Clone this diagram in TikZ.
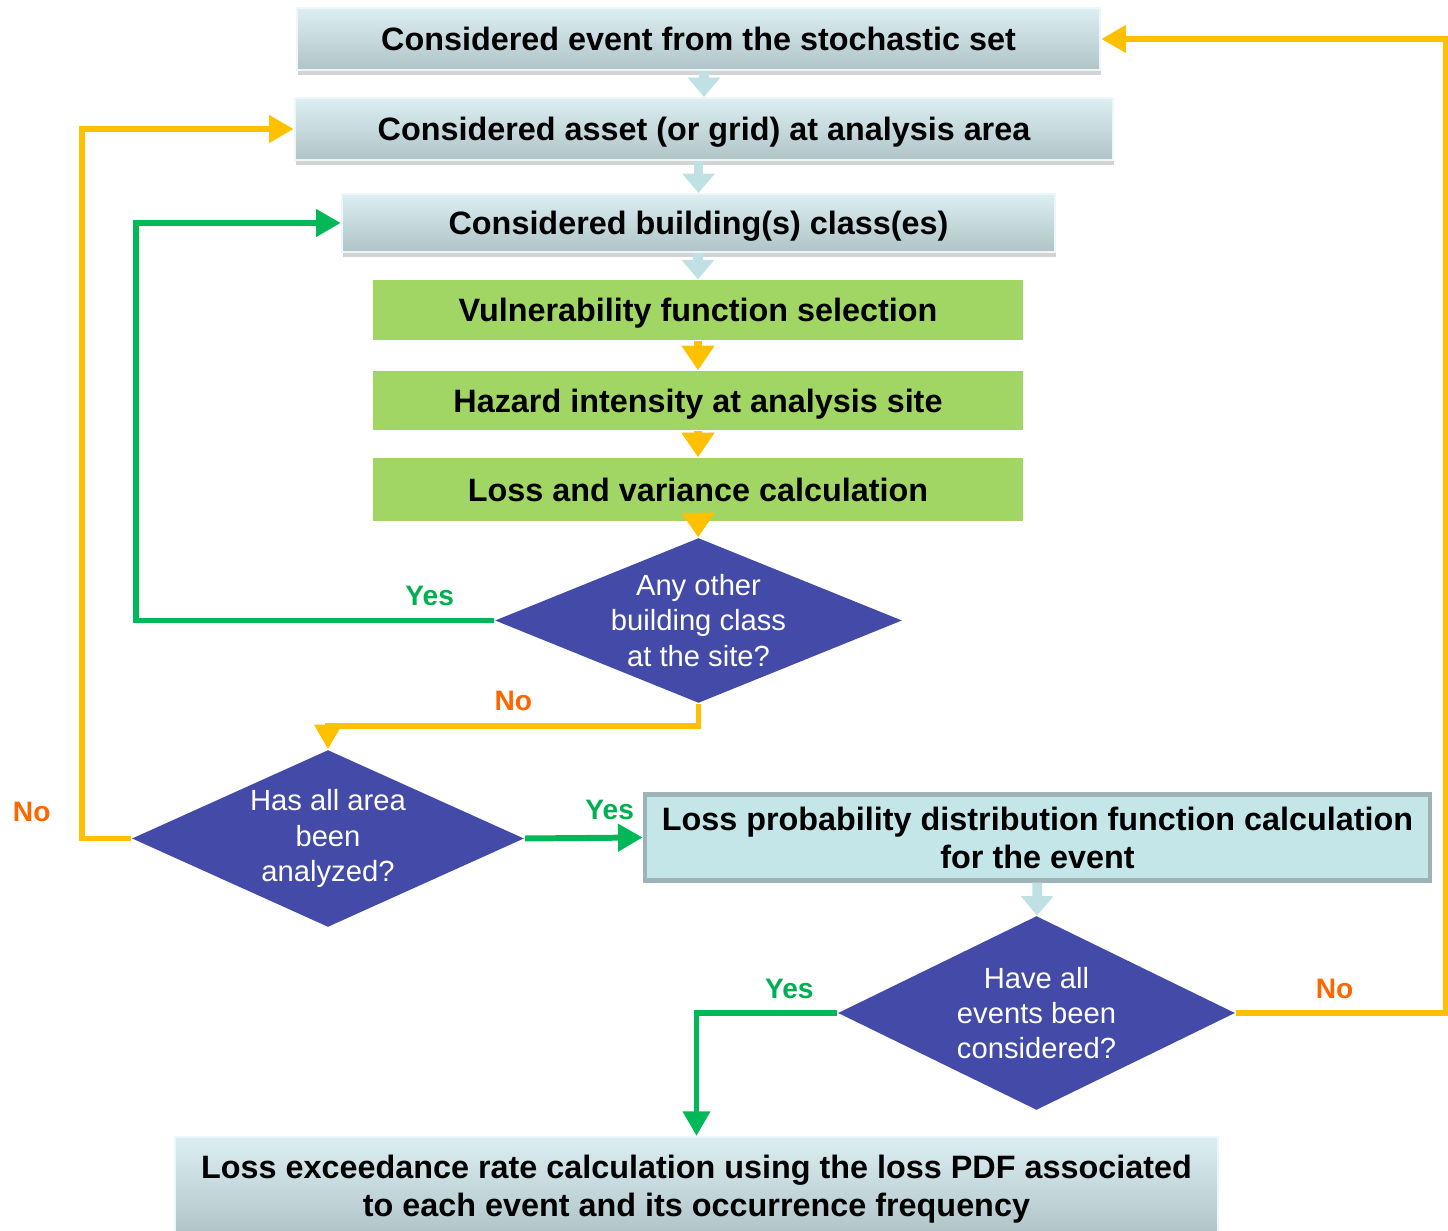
\documentclass[tikz,border=0pt]{standalone}
\usepackage{fontspec}
\setmainfont{Liberation Sans}
\usetikzlibrary{shapes.geometric,arrows.meta,shadows}
\definecolor{boxtop}{HTML}{DCEEF2}
\definecolor{boxbot}{HTML}{B0C4C7}
\definecolor{leaf}{HTML}{A2D664}
\definecolor{pdfbox}{HTML}{C4E6E8}
\definecolor{pdfedge}{HTML}{9DB3B5}
\definecolor{question}{HTML}{434AA8}
\definecolor{yesline}{HTML}{00B858}
\definecolor{noline}{HTML}{FFC000}
\definecolor{yestext}{HTML}{00B050}
\definecolor{notext}{HTML}{FF6600}
\definecolor{flowblue}{HTML}{BFE1E4}
\begin{document}
\begin{tikzpicture}[x=0.01cm,y=-0.01cm,
  stage/.style={rectangle,inner sep=0pt,text depth=0pt,top color=boxtop,bottom color=boxbot,draw=boxtop!50!white,line width=0.6pt,
    drop shadow={shadow xshift=0.3pt,shadow yshift=-1.5pt,opacity=0.35},font=\fontsize{9.2}{10.8}\selectfont\bfseries,align=center},
  task/.style={rectangle,inner sep=0pt,text depth=0pt,fill=leaf,minimum width=6.5cm,font=\fontsize{9.2}{10.8}\selectfont\bfseries},
  query/.style={diamond,inner sep=0pt,fill=question},
  qtext/.style={text=white,font=\fontsize{8.3}{10}\selectfont,align=center},
  yes/.style={text=yestext,font=\fontsize{8}{9}\selectfont\bfseries},
  no/.style={text=notext,font=\fontsize{8}{9}\selectfont\bfseries},
  bluearrow/.style={draw=flowblue,line width=2.8pt,-{Triangle[length=5.5pt 0,width=9pt 0]}},
  goldarrow/.style={draw=noline,line width=2.2pt,-{Triangle[length=7pt 0,width=9pt 0]}},
  yesarrow/.style={draw=yesline,line width=1.7pt,-{Triangle[length=7pt 0,width=7.5pt 0]}},
  noarrow/.style={draw=noline,line width=1.7pt,-{Triangle[length=7pt 0,width=7.5pt 0]}}]
\useasboundingbox (0,0) rectangle (1448,1231);
% main chain
\node[stage,minimum width=8.03cm,minimum height=0.62cm] (1) at (698.5,39) {Considered event from the stochastic set};
\node[stage,minimum width=8.18cm,minimum height=0.62cm] (2) at (704,129) {Considered asset (or grid) at analysis area};
\node[stage,minimum width=7.13cm,minimum height=0.58cm] (3) at (698.5,223) {Considered building(s) class(es)};
\node[task,minimum height=0.60cm] (4) at (698,310) {Vulnerability function selection};
\node[task,minimum height=0.59cm] (5) at (698,400.5) {Hazard intensity at analysis site};
\node[task,minimum height=0.63cm] (6) at (698,489.5) {Loss and variance calculation};
\node[query,minimum width=4.07cm,minimum height=1.65cm,label={[qtext]center:{Any other\\building class\\at the site?}}] (7) at (698.5,620.5) {};
\node[query,minimum width=3.92cm,minimum height=1.77cm,label={[qtext]center:{Has all area\\been\\analyzed?}}] (8) at (328,838.5) {};
\node[rectangle,fill=pdfbox,draw=pdfedge,line width=1.2pt,minimum width=7.85cm,minimum height=0.86cm,
  font=\fontsize{9.2}{10.8}\selectfont\bfseries,align=center] (9) at (1037.5,837.5) {Loss probability distribution function calculation\\for the event};
\node[query,minimum width=3.97cm,minimum height=1.94cm,label={[qtext]center:{Have all\\events been\\considered?}}] (10) at (1036.5,1013) {};
\node[stage,minimum width=10.43cm,minimum height=0.98cm] (11) at (696.5,1186) {Loss exceedance rate calculation using the loss PDF associated\\to each event and its occurrence frequency};
% flow
\draw[bluearrow] (1.south -| 2.north) -- (2.north);
\draw[bluearrow] (2.south -| 3.north) -- (3.north);
\draw[bluearrow] (3.south -| 4.north) -- (4.north);
\draw[goldarrow] (4) -- (5);
\draw[goldarrow] (5) -- (6);
\draw[goldarrow] (6) -- (7);
\draw[bluearrow] (9) -- (10);
% decisions
\draw[yesarrow] (7.west) -- node[yes,pos=0.18,above] {Yes} ++(-358,0) |- (3.west);
\draw[noarrow] (7.south) -- ++(0,22) -| node[no,pos=0.25,above] {No} (8.north);
\draw[noarrow] (8.west) -- ++(-49,0) node[no,left=0.17cm,yshift=0.27cm] {No} |- (2.west);
\draw[yesarrow] (8.east) -- node[yes,pos=0.72,above,yshift=0.03cm] {Yes} (9.west);
\draw[yesarrow] (10.west) -| node[yes,pos=0.17,above] {Yes} (11.north);
\draw[noarrow] (10.east) -- node[no,pos=0.47,above] {No} ++(210,0) |- (1.east);
\end{tikzpicture}
\end{document}
